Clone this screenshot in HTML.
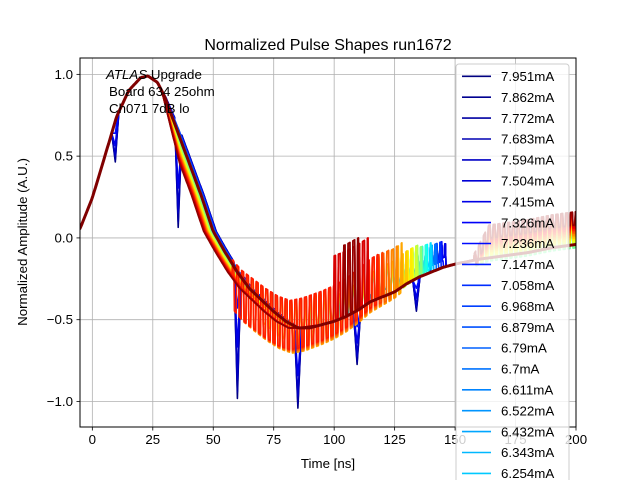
<!DOCTYPE html>
<html><head><meta charset="utf-8"><style>
body{margin:0;background:#fff;}
svg text{font-family:"Liberation Sans","DejaVu Sans",sans-serif;}
</style></head><body>
<svg id="c" width="640" height="480" viewBox="0 0 640 480" xmlns="http://www.w3.org/2000/svg">
<defs><clipPath id="pc"><rect x="80" y="58" width="496" height="369"/></clipPath></defs>
<rect width="640" height="480" fill="#fff"/>
<g id="grid"></g>
<g id="curves" clip-path="url(#pc)"></g>
<rect x="80" y="58" width="496" height="369" fill="none" stroke="#000" stroke-width="1"/>
<g id="ticks"></g>
<text x="328" y="50" text-anchor="middle" font-size="16">Normalized Pulse Shapes run1672</text>
<text x="328" y="468" text-anchor="middle" font-size="13.3">Time [ns]</text>
<text transform="translate(27,242) rotate(-90)" text-anchor="middle" font-size="13.3">Normalized Amplitude (A.U.)</text>
<g font-size="13.3">
<text x="106" y="79"><tspan font-style="italic">ATLAS</tspan> Upgrade</text>
<text x="109" y="96">Board 634 25ohm</text>
<text x="109" y="113">Ch071 7dB lo</text>
</g>
<g id="legend"></g>
</svg>
<script>
const baseT = [-6,-5,0,5,10,15,20,23,27,30,33.5,35,40,45,50,55,60,65,70,75,80,85,90,95,100,105,110,115,120,125,130,135,140,145,150,160,170,180,190,200,201];
const baseY = [0.03,0.06,0.245,0.49,0.74,0.9,0.98,0.99,0.95,0.86,0.72,0.66,0.46,0.26,0.04,-0.09,-0.21,-0.31,-0.38,-0.45,-0.51,-0.55,-0.55,-0.53,-0.51,-0.48,-0.44,-0.39,-0.36,-0.33,-0.28,-0.24,-0.21,-0.18,-0.16,-0.13,-0.11,-0.09,-0.06,-0.04,-0.04];
const currents = [7.951,7.862,7.772,7.683,7.594,7.504,7.415,7.326,7.236,7.147,7.058,6.968,6.879,6.79,6.7,6.611,6.522,6.432,6.343,6.254,6.165,6.075,5.986,5.897,5.807,5.718,5.629,5.539,5.45,5.361,5.271,5.182,5.093,5.004,4.914,4.825,4.736,4.646,4.557,4.468,4.378,4.289,4.2,4.111,4.021,3.932,3.843,3.753,3.664,3.575,3.485,3.396,3.307,3.218,3.128,3.039,2.95,2.86,2.771,2.682];
const fallShift = [1.2,1.2,1.1,1,0.9,0.8,0.6,0.4,0.2,0,-0.2,-0.4,-0.6,-0.8,-1,-1.2,-1.4,-1.6,-1.8,-2,-2.2,-2.4,-2.6,-2.8,-3,-3.2,-3.4,-3.6,-3.8,-4];
const dipStrength = [1,0.95,0.85,0.6,0.3,0,0,0,0,0,0,0,0,0,0,0,0,0,0,0,0,0,0,0,0,0,0,0,0,0];
const dipTimes = [9.5,35.5,60,85,109.5,134];
const dipAmp = [0.25,0.62,0.8,0.5,0.33,0.2];
const ringStart = [140,140,140,140,135,131,127,123,119,115,110,106,102,98,94,90,85,81,77,73,70,66,64,62,60,58,100,100,104,104];
const ringEnd = [146,146,146,146,145,144,143,142,141,141,140,139,138,137,136,136,135,134,133,132,130,128,126,123,120,118,114,114,110,110];
const ringOff1 = [0.1,0.1,0.1,0.1,0.1,0.1,0.1,0.1,0.1,0.1,0.05,0.05,0.05,0.05,0.05,0.05,0,0,0,0,0,-0.05,-0.05,-0.05,-0.05,-0.05,0.2,0.2,0.22,0.22];
const ringOff2 = [0.1,0.1,0.1,0.1,0.1,0.1,0.1,0.1,0.1,0.1,0.1,0.1,0.1,0.1,0.1,0.1,0.1,0.1,0.1,0.1,0.1,0.12,0.12,0.12,0.12,0.12,0.2,0.2,0.22,0.22];
const ringAmp = [0.04,0.04,0.04,0.04,0.06,0.06,0.06,0.06,0.06,0.06,0.08,0.08,0.08,0.08,0.08,0.08,0.1,0.1,0.1,0.1,0.1,0.15,0.15,0.15,0.15,0.15,0.2,0.2,0.22,0.22];
const tailOff = [0,0,0,0,0,0,0,0,0,0,0,0,0,0,0.02,0.03,0.04,0.05,0.06,0.07,0.08,0.09,0.1,0.11,0.12,0.13,0.14,0.15,0.16,0.16];
const xTicks = [0,25,50,75,100,125,150,175,200];
const yTicks = [-1.0,-0.5,0.0,0.5,1.0];
const yTickLabels = ["−1.0","−0.5","0.0","0.5","1.0"];

const X0=80,X1=576,Y0=58,Y1=427, XMIN=-5.1,XMAX=200, YMIN=-1.156,YMAX=1.1;
const sx=t=>X0+(t-XMIN)/(XMAX-XMIN)*(X1-X0);
const sy=v=>Y1-(v-YMIN)/(YMAX-YMIN)*(Y1-Y0);
const NS="http://www.w3.org/2000/svg";
function mk(tag,attrs,parent){const e=document.createElementNS(NS,tag);for(const k in attrs)e.setAttribute(k,attrs[k]);parent.appendChild(e);return e;}
function jet(f){const r=Math.min(Math.max(Math.min(4*f-1.5,-4*f+4.5),0),1),g=Math.min(Math.max(Math.min(4*f-0.5,-4*f+3.5),0),1),b=Math.min(Math.max(Math.min(4*f+0.5,-4*f+2.5),0),1);return `rgb(${Math.round(r*255)},${Math.round(g*255)},${Math.round(b*255)})`;}
function base(t){for(let i=0;i<baseT.length-1;i++){if(t>=baseT[i]&&t<=baseT[i+1]){const u=(t-baseT[i])/(baseT[i+1]-baseT[i]);return baseY[i]+u*(baseY[i+1]-baseY[i]);}}return baseY[baseY.length-1];}

const grid=document.getElementById('grid'),ticks=document.getElementById('ticks');
xTicks.forEach(t=>{
 const l=mk('line',{x1:sx(t),x2:sx(t),y1:Y0,y2:Y1,stroke:'#b0b0b0','stroke-width':0.8},grid);
 
 const k=mk('line',{x1:sx(t),x2:sx(t),y1:Y1,y2:Y1+3.5,stroke:'#000','stroke-width':0.8},ticks);
 
 const tx=mk('text',{x:sx(t),y:Y1+17,'text-anchor':'middle','font-size':13.3},ticks);tx.textContent=t;
 
});
yTicks.forEach((v,i)=>{
 const l=mk('line',{x1:X0,x2:X1,y1:sy(v),y2:sy(v),stroke:'#b0b0b0','stroke-width':0.8},grid);
 
 const k=mk('line',{x1:X0-3.5,x2:X0,y1:sy(v),y2:sy(v),stroke:'#000','stroke-width':0.8},ticks);
 
 const tx=mk('text',{x:X0-7,y:sy(v)+4.5,'text-anchor':'end','font-size':13.3},ticks);tx.textContent=yTickLabels[i];
 
});

const cg=document.getElementById('curves');
const N=fallShift.length;
for(let k=0;k<N;k++){
 const f=(2*k)/(currents.length-1);
 let pts=[];let idx=0;
 for(let t=-5.25;t<=200.5;t+=0.25,idx++){
  let w=0;
  if(t>28&&t<95){w=Math.min(1,(t-28)/8,(95-t)/8);}
  let y=base(t-fallShift[k]*w);
  for(let d=0;d<dipTimes.length;d++){const dd=Math.abs(t-dipTimes[d]);if(dd<1.5)y-=dipAmp[d]*dipStrength[k]*(1-dd/1.5);}
  if(t>=ringStart[k]&&t<=ringEnd[k]){
   const u=(t-ringStart[k])/(ringEnd[k]-ringStart[k]);
   y+=ringOff1[k]+(ringOff2[k]-ringOff1[k])*u+ringAmp[k]*((Math.floor(idx/4)%2)?1:-1);
  }
  if(t>=158){y+=tailOff[k]*Math.min(1,(t-158)/6)+(tailOff[k]>0?0.04*((Math.floor(idx/4)%2)?1:-1):0);}
  pts.push(sx(t).toFixed(1)+','+sy(y).toFixed(1));
 }
 const p=mk('polyline',{points:pts.join(' '),fill:'none',stroke:jet(f),'stroke-width':1.6,'stroke-linejoin':'round'},cg);
 
 
}
{let pts=[];for(let t=-5.25;t<=200.5;t+=0.5)pts.push(sx(t).toFixed(1)+','+sy(base(t)).toFixed(1));
 const p=mk('polyline',{points:pts.join(' '),fill:'none',stroke:'#800000','stroke-width':3,'stroke-linejoin':'round'},cg);
 }

const lg=document.getElementById('legend');
const box=mk('rect',{x:456,y:64,width:113,height:430,rx:3,fill:'#fff','fill-opacity':0.8,stroke:'#cccccc','stroke-width':1},lg);

for(let i=0;i<20;i++){
 const y=76.3+20.9*i,col=jet(i/(currents.length-1));
 const g=mk('g',{},lg);
 
 mk('line',{x1:462,x2:491,y1:y,y2:y,stroke:col,'stroke-width':1.6},g);
 const tx=mk('text',{x:501,y:y+4.7,'font-size':13.3},g);tx.textContent=currents[i]+'mA';
}
</script>
</body></html>
